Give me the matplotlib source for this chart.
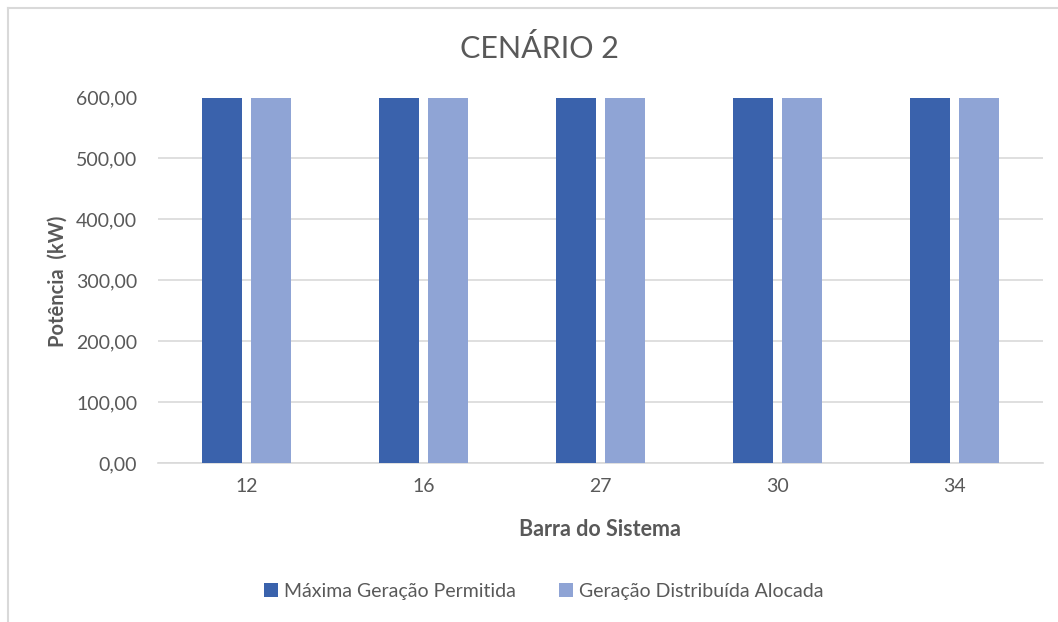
import matplotlib
matplotlib.use('Agg')
import matplotlib.pyplot as plt
from matplotlib.lines import Line2D
from matplotlib.ticker import FuncFormatter
import numpy as np

plt.rcParams['font.family'] = ['Lato', 'DejaVu Sans']

barras = ['12', '16', '27', '30', '34']
maxima = [600, 600, 600, 600, 600]
alocada = [600, 600, 600, 600, 600]

cor1 = '#3A62AC'
cor2 = '#8FA4D5'
cinza = '#595959'

fig = plt.figure(figsize=(10.58, 6.22), dpi=100)
ax = fig.add_axes([158/1058, 1-463/622, 885/1058, (463-97.5)/622])

x = np.arange(len(barras))
w = 0.226
ax.bar(x - 0.141, maxima, w, color=cor1, label=u'Máxima Geração Permitida', zorder=3)
ax.bar(x + 0.141, alocada, w, color=cor2, label=u'Geração Distribuída Alocada', zorder=3)

ax.set_xlim(-0.5, 4.5)
ax.set_ylim(0, 600)
ax.set_yticks(range(0, 601, 100))
ax.yaxis.set_major_formatter(FuncFormatter(lambda v, p: ('%.2f' % v).replace('.', ',')))
ax.set_xticks(x)
ax.set_xticklabels(barras)
ax.grid(axis='y', color='#D9D9D9', linewidth=1.2, zorder=0)
for s in ['top', 'right', 'left']:
    ax.spines[s].set_visible(False)
ax.spines['bottom'].set_color('#D9D9D9')
ax.spines['bottom'].set_linewidth(1.2)
ax.tick_params(axis='both', length=0, colors=cinza, labelsize=14)
ax.tick_params(axis='y', pad=15)
ax.tick_params(axis='x', pad=11)

fig.text(539/1058, 1-48/622, u'CENÁRIO 2', ha='center', va='center', fontsize=22, color=cinza)
fig.text(58/1058, 1-281/622, u'Potência  (kW)', ha='center', va='center', rotation=90, fontsize=14.5, fontweight='bold', color=cinza)
fig.text(600/1058, 1-529/622, u'Barra do Sistema', ha='center', va='center', fontsize=15.5, fontweight='bold', color=cinza)

fig.legend(loc='center', bbox_to_anchor=(544/1058, 1-591/622), ncol=2, frameon=False,
           fontsize=14, handlelength=0.7, handleheight=0.7, handletextpad=0.35, columnspacing=2.2,
           labelcolor=cinza)

fig.add_artist(Line2D([8/1058, 8/1058], [0, 1-8/622], color='#D9D9D9', linewidth=1.5, transform=fig.transFigure))
fig.add_artist(Line2D([8/1058, 1], [1-8/622, 1-8/622], color='#D9D9D9', linewidth=1.5, transform=fig.transFigure))

fig.savefig('out.png', dpi=100)
